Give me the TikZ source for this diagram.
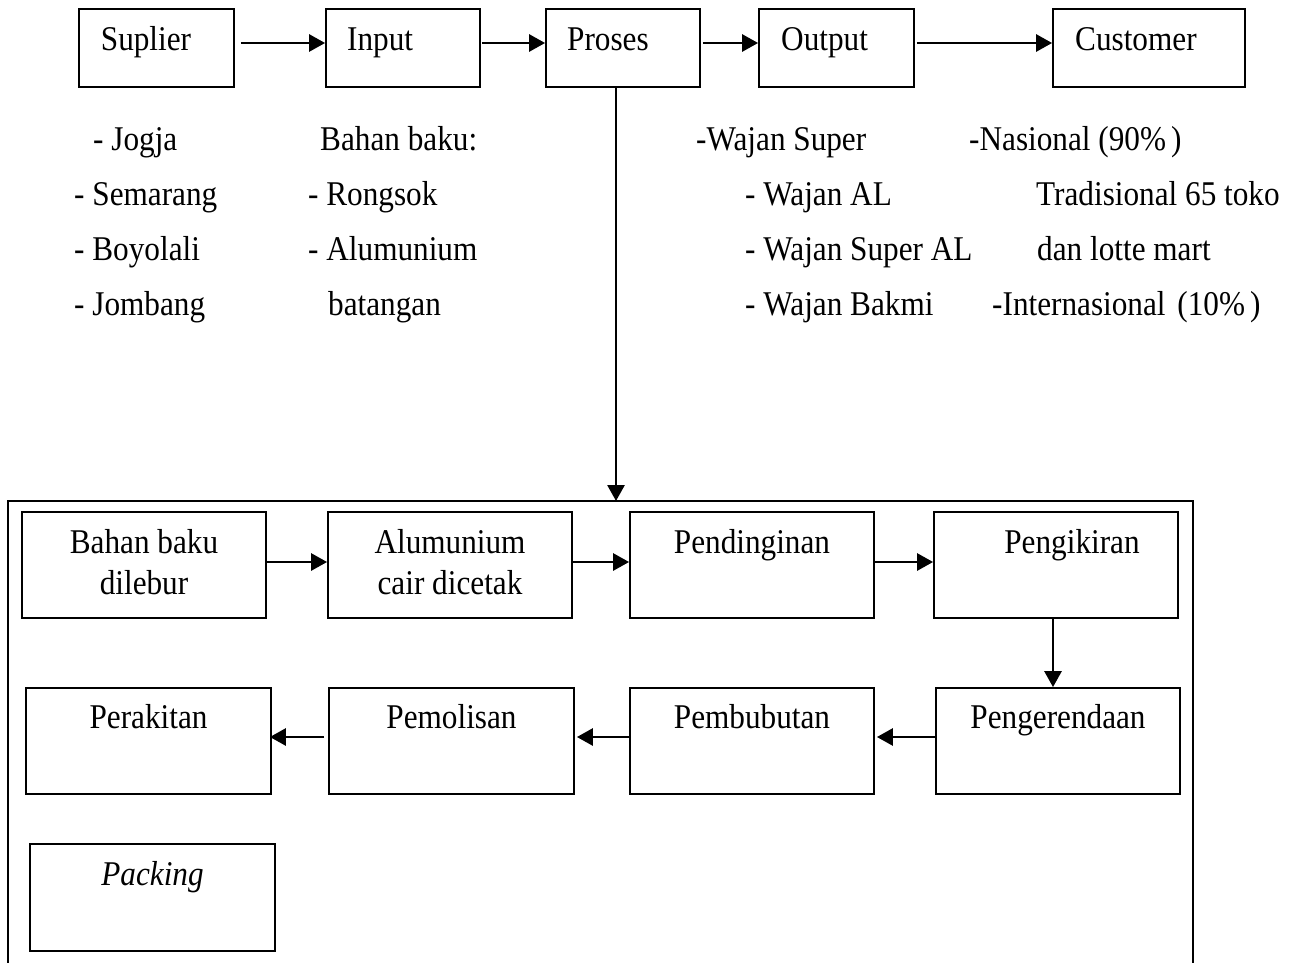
\documentclass[tikz,border=0pt]{standalone}
\usepackage{fontspec}
\setmainfont{Liberation Serif}[FakeStretch=0.9]
\usetikzlibrary{arrows.meta}
\begin{document}
\begin{tikzpicture}[x=1pt,y=-1pt,
  box/.style={draw, line width=1.8pt, inner sep=0pt, minimum height=106pt, minimum width=244pt},
  topbox/.style={draw, line width=1.8pt, inner sep=0pt, minimum height=78pt},
  arr/.style={line width=2.8pt, -{Triangle[length=16pt,width=17pt]}},
  txt/.style={inner sep=0pt, font=\fontsize{34.7}{41}\selectfont},
  lbl/.style={txt, anchor=base west},
  ctr/.style={txt, anchor=base}]
\useasboundingbox (0,0) rectangle (1304,963);

% top row
\node[topbox, minimum width=155pt] (sup) at (156.5,48) {};
\node[topbox, minimum width=154pt] (inp) at (403,48) {};
\node[topbox, minimum width=154pt] (pro) at (623,48) {};
\node[topbox, minimum width=155pt] (out) at (836.5,48) {};
\node[topbox, minimum width=192pt] (cus) at (1149,48) {};
\node[lbl] (tsup) at (100.7,51) {Suplier};
\node[lbl] (tinp) at (347,51) {Input};
\node[lbl] (tpro) at (567,51) {Proses};
\node[lbl] (tout) at (781,51) {Output};
\node[lbl] (tcus) at (1075,51) {Customer};

\draw[arr] ([xshift=6pt,yshift=5pt]sup.east) -- ([yshift=5pt]inp.west);
\draw[arr] ([xshift=1pt,yshift=5pt]inp.east) -- ([yshift=5pt]pro.west);
\draw[arr] ([xshift=2pt,yshift=5pt]pro.east) -- ([yshift=5pt]out.west);
\draw[arr] ([xshift=2pt,yshift=5pt]out.east) -- ([yshift=5pt]cus.west);

% lists
\node[lbl] (s1) at (93,150) {- Jogja};
\node[lbl] (s2) at (74,205) {- Semarang};
\node[lbl] (s3) at (74,260) {- Boyolali};
\node[lbl] (s4) at (74,315) {- Jombang};
\node[lbl] (i1) at (320,150) {Bahan baku:};
\node[lbl] (i2) at (308,205) {- Rongsok};
\node[lbl] (i3) at (308,260) {- Alumunium};
\node[lbl] (i4) at (328,315) {batangan};
\node[lbl] (o1) at (696,150) {-Wajan Super};
\node[lbl] (o2) at (745,205) {- Wajan AL};
\node[lbl] (o3) at (745,260) {- Wajan Super AL};
\node[lbl] (o4) at (745,315) {- Wajan Bakmi};
\node[lbl] (c1t) at (969,150) {-Nasional (90\%\hspace{5pt})};
\node[lbl] (c2t) at (1036,205) {Tradisional 65 toko};
\node[lbl] (c3t) at (1037,260) {dan lotte mart};
\node[lbl] (c4t) at (992,315) {-Internasional\hspace{4pt} (10\%\hspace{5pt})};

% big container
\draw[line width=2.6pt] (8,975) -- (8,501) -- (1193,501) -- (1193,975);
\coordinate (bigtop) at (616,501);
\draw[arr] (pro.south -| bigtop) -- (bigtop);

% row 1
\node[box] (b1) at (144,565) {};
\node[box] (b2) at (450,565) {};
\node[box] (b3) at (752,565) {};
\node[box] (b4) at (1056,565) {};
\node[ctr] (tb1a) at (144,553) {Bahan baku};
\node[ctr] (tb1b) at (144,594) {dilebur};
\node[ctr] (tb2a) at (450,553) {Alumunium};
\node[ctr] (tb2b) at (450,594) {cair dicetak};
\node[ctr] (tb3) at (752,553) {Pendinginan};
\node[ctr] (tb4) at (1072,553) {Pengikiran};
\draw[arr] ([yshift=3pt]b1.east) -- ([yshift=3pt]b2.west);
\draw[arr] ([yshift=3pt]b2.east) -- ([yshift=3pt]b3.west);
\draw[arr] ([yshift=3pt]b3.east) -- ([yshift=3pt]b4.west);

% row 2
\node[box, minimum width=245pt] (c1) at (148.5,741) {};
\node[box, minimum width=245pt] (c2) at (451.5,741) {};
\node[box] (c3) at (752,741) {};
\node[box] (c4) at (1058,741) {};
\node[ctr] (tc1) at (148.5,728) {Perakitan};
\node[ctr] (tc2) at (451.5,728) {Pemolisan};
\node[ctr] (tc3) at (752,728) {Pembubutan};
\node[ctr] (tc4) at (1058,728) {Pengerendaan};
\draw[arr] ([xshift=-3pt]b4.south) -- ([xshift=-3pt]b4.south |- c4.north);
\draw[arr] ([yshift=4pt]c4.west) -- ([xshift=2pt,yshift=4pt]c3.east);
\draw[arr] ([yshift=4pt]c3.west) -- ([xshift=2pt,yshift=4pt]c2.east);
\draw[arr] ([xshift=-4pt,yshift=4pt]c2.west) -- ([xshift=-2pt,yshift=4pt]c1.east);

% row 3
\node[box, minimum width=245pt, minimum height=107pt] (pk) at (152.5,897.5) {};
\node[ctr] (tpk) at (152.5,885) {\itshape Packing};
\end{tikzpicture}
\end{document}
